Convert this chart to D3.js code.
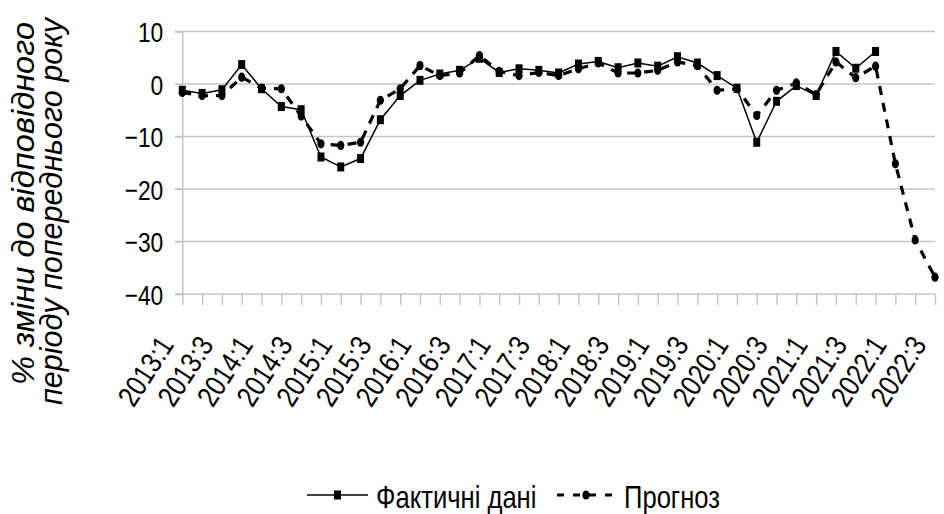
<!DOCTYPE html>
<html><head><meta charset="utf-8">
<script src="https://cdn.jsdelivr.net/npm/d3@7"></script>
<style>html,body{margin:0;padding:0;background:#fff;} svg{display:block}</style>
</head><body><svg id="c" width="944" height="514"></svg>
<script>
const categories = ["2013:1","2013:2","2013:3","2013:4","2014:1","2014:2","2014:3","2014:4",
  "2015:1","2015:2","2015:3","2015:4","2016:1","2016:2","2016:3","2016:4",
  "2017:1","2017:2","2017:3","2017:4","2018:1","2018:2","2018:3","2018:4",
  "2019:1","2019:2","2019:3","2019:4","2020:1","2020:2","2020:3","2020:4",
  "2021:1","2021:2","2021:3","2021:4","2022:1","2022:2","2022:3"];
const tickLabels = ["2013:1","2013:3","2014:1","2014:3","2015:1","2015:3","2016:1","2016:3",
  "2017:1","2017:3","2018:1","2018:3","2019:1","2019:3","2020:1","2020:3",
  "2021:1","2021:3","2022:1","2022:3"];
const actual = [-1.2,-1.8,-1.1,3.7,-0.9,-4.3,-4.9,-13.9,-15.8,-14.2,-6.8,-2.2,0.7,1.9,2.6,4.9,
  2.2,2.9,2.6,2.1,3.8,4.3,3.1,4.0,3.4,5.2,4.0,1.6,-0.8,-11.1,-3.3,-0.3,-2.2,6.2,3.0,6.2,
  null,null,null];
const forecast = [-1.6,-2.2,-2.2,1.3,-0.8,-0.9,-6.1,-11.4,-11.7,-11.1,-3.1,-0.9,3.5,1.6,2.1,5.4,
  2.4,1.6,2.2,1.6,2.9,4.0,2.1,2.1,2.6,4.2,3.5,-1.2,-0.9,-6.0,-1.2,0.2,-2.0,4.2,1.2,3.4,
  -15.2,-29.7,-36.8];
const yTicks = [10,0,-10,-20,-30,-40];
const seriesNames = ["Фактичні дані","Прогноз"];
const yTitle = ["% зміни до відповідного","періоду попереднього року"];

const FONT = "'Liberation Sans', Arial, sans-serif";
const svg = d3.select("#c");
const x = d3.scalePoint().domain(categories).range([182.3, 935]);
const y = d3.scaleLinear().domain([-40, 10]).range([294, 31.5]);
const GRID = "#c4c4c4";

// gridlines
svg.append("g").selectAll("line").data(yTicks).join("line")
  .attr("x1", 175).attr("x2", 935)
  .attr("y1", d => y(d)).attr("y2", d => y(d))
  .attr("stroke", GRID).attr("stroke-width", 1.4);

// y axis
const yAx = svg.append("g").attr("transform", "translate(182.3,0)")
  .call(d3.axisLeft(y).tickValues(yTicks).tickSize(7).tickFormat(d3.format("d")));
yAx.select(".domain").attr("stroke", GRID).attr("stroke-width", 1.4);
yAx.selectAll(".tick line").attr("stroke", GRID).attr("stroke-width", 1.4);
yAx.selectAll(".tick text")
  .attr("x", 0).attr("dy", null).attr("y", 0)
  .attr("transform", "translate(-19,10) scale(0.8,1)")
  .attr("text-anchor", "end")
  .style("font-family", FONT).style("font-size", "28.5px").attr("fill", "#000");

// x axis
const xAx = svg.append("g").attr("transform", "translate(0,294)")
  .call(d3.axisBottom(x).tickSize(11).tickFormat(d => tickLabels.includes(d) ? d : ""));
xAx.select(".domain").remove();
xAx.selectAll(".tick line").attr("stroke", GRID).attr("stroke-width", 1.4);
xAx.selectAll(".tick text")
  .attr("x", 0).attr("y", 0).attr("dy", null)
  .attr("transform", "translate(-8,51) rotate(-57) scale(0.84,1)")
  .attr("text-anchor", "end")
  .style("font-family", FONT).style("font-size", "29.5px").attr("fill", "#000");

// lines
const line = d3.line().defined(d => d != null)
  .x((d, i) => x(categories[i])).y(d => y(d));
svg.append("path").datum(actual).attr("d", line)
  .attr("fill", "none").attr("stroke", "#000").attr("stroke-width", 1.5);
svg.append("g").selectAll("rect").data(actual.map((v, i) => [i, v]).filter(d => d[1] != null))
  .join("rect")
  .attr("x", d => x(categories[d[0]]) - 3.5).attr("y", d => y(d[1]) - 4.5)
  .attr("width", 7).attr("height", 9).attr("fill", "#000");

svg.append("path").datum(forecast).attr("d", line)
  .attr("fill", "none").attr("stroke", "#000").attr("stroke-width", 3.2)
  .attr("stroke-dasharray", "9,8");
svg.append("g").selectAll("ellipse").data(forecast.map((v, i) => [i, v]).filter(d => d[1] != null))
  .join("ellipse")
  .attr("cx", d => x(categories[d[0]])).attr("cy", d => y(d[1]))
  .attr("rx", 3.6).attr("ry", 4.6).attr("fill", "#000");

// y title
const tg = svg.append("g").style("font-family", FONT).style("font-style", "italic")
  .style("font-size", "31px").attr("fill", "#000");
tg.append("text").attr("transform", "translate(34,385) rotate(-90)")
  .attr("textLength", 363).attr("lengthAdjust", "spacingAndGlyphs").text(yTitle[0]);
tg.append("text").attr("transform", "translate(62,405) rotate(-90)")
  .attr("textLength", 387).attr("lengthAdjust", "spacingAndGlyphs").text(yTitle[1]);

// legend
const lg = svg.append("g");
lg.append("line").attr("x1", 307).attr("x2", 368).attr("y1", 495).attr("y2", 495)
  .attr("stroke", "#000").attr("stroke-width", 1.5);
lg.append("rect").attr("x", 334).attr("y", 490.5).attr("width", 7).attr("height", 9).attr("fill", "#000");
lg.append("text").attr("transform", "translate(376,508) scale(0.8,1)")
  .style("font-family", FONT).style("font-size", "32px").text(seriesNames[0]);
lg.append("line").attr("x1", 557).attr("x2", 618).attr("y1", 495).attr("y2", 495)
  .attr("stroke", "#000").attr("stroke-width", 3.2).attr("stroke-dasharray", "7,9");
lg.append("ellipse").attr("cx", 586).attr("cy", 495).attr("rx", 3.6).attr("ry", 4.6).attr("fill", "#000");
lg.append("text").attr("transform", "translate(624,508) scale(0.8,1)")
  .style("font-family", FONT).style("font-size", "32px").text(seriesNames[1]);
</script></body></html>
